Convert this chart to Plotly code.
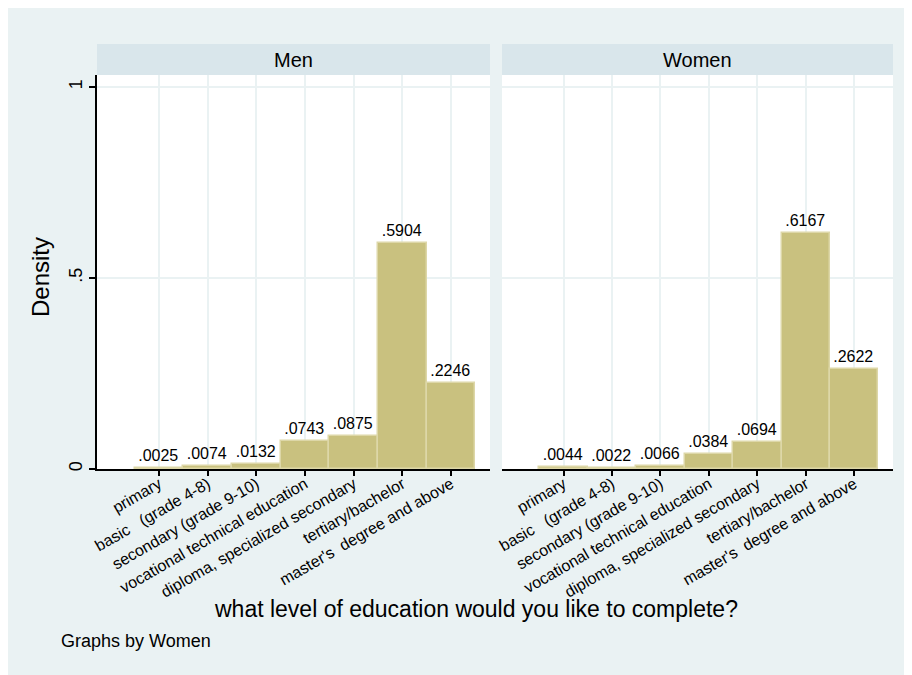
import plotly.graph_objects as go

categories = [
    "primary",
    "basic\u00a0\u00a0\u00a0(grade 4-8)",
    "secondary (grade 9-10)",
    "vocational technical education",
    "diploma, specialized secondary",
    "tertiary/bachelor",
    "master's\u00a0 degree and above",
]
men_density = [0.0025, 0.0074, 0.0132, 0.0743, 0.0875, 0.5904, 0.2246]
women_density = [0.0044, 0.0022, 0.0066, 0.0384, 0.0694, 0.6167, 0.2622]
men_labels = [".0025", ".0074", ".0132", ".0743", ".0875", ".5904", ".2246"]
women_labels = [".0044", ".0022", ".0066", ".0384", ".0694", ".6167", ".2622"]
panel_titles = ["Men", "Women"]
y_ticks = [0, 0.5, 1]
y_ticktext = ["0", ".5", "1"]

W, H = 912, 675
BG = "#EAF2F3"
STRIP = "#D9E6EB"
BAR = "#C9C17F"
BAR_LINE = "#DDD7A8"
FONT = "Liberation Sans, Arial, sans-serif"

def px_x(x):
    return (x - 8) / W

def px_y(y):
    return 1 - (y - 8) / H

fig = go.Figure()
for i, (vals, labs) in enumerate([(men_density, men_labels), (women_density, women_labels)]):
    fig.add_trace(go.Bar(
        x=categories, y=vals, text=labs, textposition="outside",
        textfont=dict(size=16, color="black", family=FONT),
        marker=dict(color=BAR, line=dict(color=BAR_LINE, width=1.5)),
        cliponaxis=False, xaxis="x" if i == 0 else "x2", yaxis="y" if i == 0 else "y2",
        showlegend=False, hoverinfo="skip",
    ))

ydom = [px_y(469), px_y(75)]
xdom1 = [px_x(97), px_x(490)]
xdom2 = [px_x(502), px_x(893)]
xrange_ = [-1.27, 6.80]
yrange_ = [0, 1.0315]

xcommon = dict(
    type="category", range=xrange_, showline=True, linecolor="black", linewidth=1.5,
    ticks="outside", ticklen=5, tickwidth=1.5, tickcolor="black", tickangle=-30,
    tickfont=dict(size=16, color="black", family=FONT), ticklabelstandoff=-7,
    showgrid=True, gridcolor=BG, gridwidth=2, zeroline=False, fixedrange=True,
    automargin=False,
)
fig.update_layout(
    width=W, height=H,
    margin=dict(l=0, r=0, t=0, b=0, autoexpand=False),
    paper_bgcolor=BG, plot_bgcolor="white",
    bargap=0,
    font=dict(family=FONT, color="black"),
    xaxis=dict(domain=xdom1, anchor="y", **xcommon),
    xaxis2=dict(domain=xdom2, anchor="y2", **xcommon),
    yaxis=dict(domain=ydom, anchor="x", range=yrange_, tickvals=y_ticks, ticktext=y_ticktext,
               tickangle=-90, ticks="outside", ticklen=6, tickwidth=1.5, tickcolor="black",
               showline=True, linecolor="black", linewidth=1.5,
               tickfont=dict(size=18, color="black", family=FONT),
               showgrid=True, gridcolor=BG, gridwidth=2, zeroline=False, fixedrange=True,
               automargin=False),
    yaxis2=dict(domain=ydom, anchor="x2", range=yrange_, tickvals=y_ticks,
                showticklabels=False, ticks="", showline=False,
                showgrid=True, gridcolor=BG, gridwidth=2, zeroline=False, fixedrange=True,
                automargin=False),
)

# facet header strips
for dom in (xdom1, xdom2):
    fig.add_shape(type="rect", xref="paper", yref="paper", x0=dom[0], x1=dom[1],
                  y0=px_y(75), y1=px_y(44), fillcolor=STRIP, line=dict(width=0), layer="below")

ann = [
    dict(text=panel_titles[0], x=(xdom1[0] + xdom1[1]) / 2, y=px_y(60), font=dict(size=20)),
    dict(text=panel_titles[1], x=(xdom2[0] + xdom2[1]) / 2, y=px_y(60), font=dict(size=20)),
    dict(text="Density", x=px_x(40), y=px_y(277), textangle=-90, font=dict(size=24)),
    dict(text="what level of education would you like to complete?", x=px_x(476), y=px_y(609),
         font=dict(size=23)),
    dict(text="Graphs by Women", x=px_x(59), y=px_y(641), xanchor="left", font=dict(size=18)),
]
for a in ann:
    a.setdefault("xanchor", "center")
    fig.add_annotation(xref="paper", yref="paper", showarrow=False, yanchor="middle",
                       font_color="black", **{k: v for k, v in a.items()})

fig.write_html("out.html")
